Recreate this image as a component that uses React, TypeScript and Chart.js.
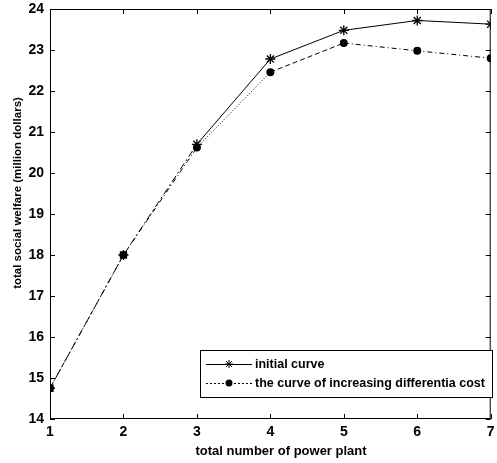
import { useEffect, useRef } from 'react';
import { Chart, registerables } from 'chart.js';

Chart.register(...registerables);

const plantCounts = [1, 2, 3, 4, 5, 6, 7];
const initialCurve = [14.75, 18.0, 20.7, 22.78, 23.48, 23.72, 23.63];
const increasingCostCurve = [14.75, 18.0, 20.62, 22.46, 23.17, 22.98, 22.8];
const xTickValues = [1, 2, 3, 4, 5, 6, 7];
const yTickValues = [14, 15, 16, 17, 18, 19, 20, 21, 22, 23, 24];
const seriesNames = ['initial curve', 'the curve of increasing differentia cost'];
const xTitle = 'total number of power plant';
const yTitle = 'total social welfare (million dollars)';

const FONT = 'Arial, "Liberation Sans", Helvetica, sans-serif';

const frame = {
  id: 'frame',
  afterDatasetsDraw(chart: any) {
    const { ctx, chartArea: a, scales } = chart;
    ctx.save();
    ctx.strokeStyle = '#000';
    ctx.lineWidth = 1;
    ctx.strokeRect(a.left + 0.5, a.top + 0.5, a.right - a.left - 1, a.bottom - a.top - 1);
    const L = 5;
    ctx.beginPath();
    xTickValues.forEach((v) => {
      const x = Math.round(scales.x.getPixelForValue(v)) + 0.5;
      ctx.moveTo(x, a.bottom);
      ctx.lineTo(x, a.bottom - L);
      ctx.moveTo(x, a.top);
      ctx.lineTo(x, a.top + L);
    });
    yTickValues.forEach((v) => {
      const y = Math.round(scales.y.getPixelForValue(v)) + 0.5;
      ctx.moveTo(a.left, y);
      ctx.lineTo(a.left + L, y);
      ctx.moveTo(a.right, y);
      ctx.lineTo(a.right - L, y);
    });
    ctx.stroke();

    // axis titles
    ctx.fillStyle = '#000';
    ctx.textAlign = 'center';
    ctx.textBaseline = 'middle';
    ctx.font = `bold 13px ${FONT}`;
    ctx.fillText(xTitle, 281, 451);
    ctx.save();
    ctx.translate(18, 193);
    ctx.rotate(-Math.PI / 2);
    ctx.font = `bold 11.5px ${FONT}`;
    ctx.fillText(yTitle, 0, 0);
    ctx.restore();

    // legend box
    const bx = 200, by = 350, bw = 292, bh = 47;
    ctx.fillStyle = '#fff';
    ctx.fillRect(bx, by, bw, bh);
    ctx.strokeRect(bx + 0.5, by + 0.5, bw, bh);
    const rows = [364, 383];
    ctx.font = `bold 12.5px ${FONT}`;
    ctx.textAlign = 'left';
    ctx.textBaseline = 'middle';
    rows.forEach((ry, i) => {
      ctx.beginPath();
      ctx.setLineDash(i === 0 ? [] : [2, 2]);
      ctx.moveTo(206, ry + 0.5);
      ctx.lineTo(252, ry + 0.5);
      ctx.stroke();
      ctx.setLineDash([]);
      if (i === 0) {
        ctx.beginPath();
        const r = 4;
        for (let k = 0; k < 4; k++) {
          const ang = (k * Math.PI) / 4;
          ctx.moveTo(229 + r * Math.cos(ang), ry + r * Math.sin(ang));
          ctx.lineTo(229 - r * Math.cos(ang), ry - r * Math.sin(ang));
        }
        ctx.stroke();
      } else {
        ctx.beginPath();
        ctx.fillStyle = '#000';
        ctx.arc(229, ry, 3.5, 0, Math.PI * 2);
        ctx.fill();
      }
      ctx.fillStyle = '#000';
      ctx.fillText(seriesNames[i], 255, ry + 0.5);
    });
    ctx.restore();
  },
};

export default function App() {
  const ref = useRef<HTMLCanvasElement>(null);
  useEffect(() => {
    document.body.style.margin = '0';
    const chart = new Chart(ref.current as HTMLCanvasElement, {
      type: 'line',
      data: {
        datasets: [
          {
            label: seriesNames[0],
            data: plantCounts.map((x, i) => ({ x, y: initialCurve[i] })),
            borderColor: '#000',
            backgroundColor: '#000',
            borderWidth: 1,
            pointStyle: 'star',
            pointRadius: 5,
            pointBorderWidth: 1.3,
            segment: {
              borderDash: (c: any) => (c.p0DataIndex < 2 ? [7, 3, 2, 3] : undefined),
            },
          },
          {
            label: seriesNames[1],
            data: plantCounts.map((x, i) => ({ x, y: increasingCostCurve[i] })),
            borderColor: '#000',
            backgroundColor: '#000',
            borderWidth: 1,
            borderDash: [5, 3, 1, 3],
            pointStyle: 'circle',
            pointRadius: 4,
            pointBorderWidth: 0,
            segment: {
              borderDash: (c: any) => (c.p0DataIndex === 3 ? [5, 3] : c.p0DataIndex === 2 ? [1, 2] : undefined),
            },
          },
        ],
      },
      options: {
        animation: false,
        responsive: false,
        maintainAspectRatio: false,
        layout: { padding: { top: 9, right: 1, left: 0, bottom: 0 } },
        plugins: { legend: { display: false }, tooltip: { enabled: false } },
        scales: {
          x: {
            type: 'linear',
            min: 1,
            max: 7,
            grid: { display: false, drawTicks: false },
            border: { display: false },
            afterBuildTicks: (s: any) => {
              s.ticks = xTickValues.map((v) => ({ value: v }));
            },
            ticks: {
              color: '#000',
              font: { family: FONT, size: 14, weight: 'bold' },
              padding: 5,
              maxRotation: 0,
              autoSkip: false,
            },
            title: { display: false },
            afterFit: (s: any) => {
              s.height = 44;
              s.paddingLeft = 0;
              s.paddingRight = 0;
            },
          },
          y: {
            type: 'linear',
            min: 14,
            max: 24,
            grid: { display: false, drawTicks: false },
            border: { display: false },
            afterBuildTicks: (s: any) => {
              s.ticks = yTickValues.map((v) => ({ value: v }));
            },
            ticks: {
              color: '#000',
              font: { family: FONT, size: 14, weight: 'bold' },
              padding: 6,
              autoSkip: false,
            },
            title: { display: false },
            afterFit: (s: any) => {
              s.width = 50;
              s.paddingTop = 0;
              s.paddingBottom = 0;
            },
          },
        },
      },
      plugins: [frame],
    });
    return () => chart.destroy();
  }, []);
  return (
    <div style={{ position: 'absolute', left: 0, top: 0, width: 497, height: 463, background: '#fff' }}>
      <canvas ref={ref} width={497} height={463} style={{ display: 'block', width: 497, height: 463 }} />
    </div>
  );
}
